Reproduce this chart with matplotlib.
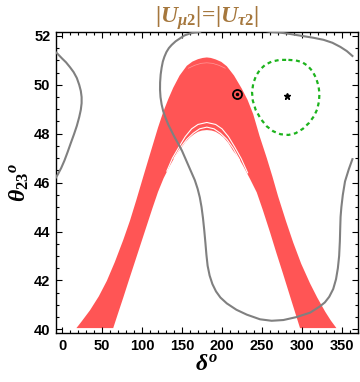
import numpy as np
import matplotlib
matplotlib.use('Agg')
import matplotlib.pyplot as plt
from matplotlib.ticker import MultipleLocator

plt.rcParams['mathtext.fontset'] = 'custom'
plt.rcParams['mathtext.rm'] = 'Liberation Serif:bold'
plt.rcParams['mathtext.bf'] = 'Liberation Serif:bold'
plt.rcParams['mathtext.it'] = 'Liberation Serif:bold:italic'
plt.rcParams['mathtext.bfit'] = 'Liberation Serif:bold:italic'
plt.rcParams['font.family'] = ['Liberation Sans', 'DejaVu Sans']

# red band: outer edge and inner edge (delta in deg, theta23 in deg)
outer_d = [18, 24, 35, 46, 56, 66, 76.6, 85, 93, 101.6, 108, 114, 120, 126.6, 133, 139, 147, 156,
           163, 170, 176, 181, 186, 192, 199, 206, 215, 224.6, 232, 239, 247, 256, 263, 270, 280,
           289, 299, 310, 319, 329, 336, 343]
outer_y = [40.05, 40.3, 40.78, 41.35, 41.98, 42.75, 43.66, 44.45, 45.3, 46.25, 46.95, 47.6, 48.25,
           48.9, 49.43, 49.88, 50.38, 50.78, 50.95, 51.05, 51.1, 51.12, 51.1, 51.04, 50.94, 50.76,
           50.38, 49.85, 49.38, 48.8, 47.9, 47.0, 46.25, 45.45, 44.42, 43.55, 42.68, 41.88, 41.3,
           40.72, 40.36, 40.05]
inner_d = [64, 70, 76.6, 83, 89, 97, 106, 113, 120, 127, 135, 141, 147.5, 154, 160, 165, 170, 175,
           181, 187, 192, 197, 202, 208, 214, 221, 227, 235, 243.4, 251, 260, 268, 276, 286, 297.5]
inner_y = [40.05, 40.65, 41.3, 41.95, 42.55, 43.35, 44.25, 44.95, 45.62, 46.18, 46.7, 47.05, 47.35,
           47.65, 47.85, 47.98, 48.08, 48.13, 48.15, 48.13, 48.08, 47.98, 47.85, 47.62, 47.3,
           47.0, 46.65, 46.15, 45.6, 44.88, 43.97, 43.12, 42.3, 41.25, 40.05]

# thin white gaps near the inner apex and near the top
gap1_d = [131, 138, 146, 154, 162, 170, 181, 192, 200, 208, 216, 224, 232]
gap1_y = [46.47, 47.0, 47.45, 47.88, 48.2, 48.38, 48.46, 48.38, 48.2, 47.88, 47.45, 46.98, 46.4]
gap2_d = [140, 148, 156, 164, 172, 181, 190, 198, 206, 214, 222]
gap2_y = [46.99, 47.43, 47.77, 48.02, 48.2, 48.27, 48.2, 48.02, 47.77, 47.4, 46.92]
gap3_d = [158, 166, 174, 181, 188, 196, 204]
gap3_y = [50.68, 50.8, 50.88, 50.9, 50.88, 50.8, 50.68]

# gray contours
left_d = [-8.75, -5, 0, 5, 10, 14.5, 18.5, 21.5, 23.5, 24.5, 24.5, 23.5, 21.5, 18.5, 15, 11, 7, 3,
          -1, -5, -8.75]
left_y = [51.36, 51.25, 51.08, 50.92, 50.72, 50.52, 50.28, 50.0, 49.75, 49.5, 49.25, 48.98, 48.68,
          48.32, 47.98, 47.62, 47.25, 46.9, 46.6, 46.35, 46.15]
mid_d = [178, 172.5, 166, 160, 153, 147.5, 142, 137, 133.5, 130.5, 128, 126, 124.5, 123.3, 122.6,
         122.5, 123.1, 124.5, 126.5, 129.5, 133, 137, 141, 145.5, 150, 156, 162, 166, 169.5, 172.2,
         174.4, 176.2, 177.8, 179.2, 180.5, 182, 184.5, 188, 192.5, 198, 206, 218, 231, 247.5,
         262, 276.7, 293, 310, 322, 328.5, 334, 339, 342.5, 344.8, 346.4, 347.3, 347.8, 348.2,
         349.2, 351, 353.75, 358.5, 363]
mid_y = [52.3, 52.16, 52.14, 52.1, 52.02, 51.9, 51.78, 51.63, 51.5, 51.34, 51.15, 50.95, 50.7,
         50.42, 50.1, 49.8, 49.5, 49.2, 48.92, 48.64, 48.36, 48.1, 47.84, 47.58, 47.3, 46.85, 46.4,
         46.1, 45.75, 45.4, 45.0, 44.55, 44.05, 43.55, 43.05, 42.6, 42.2, 41.85, 41.55, 41.3,
         41.06, 40.8, 40.6, 40.41, 40.35, 40.38, 40.5, 40.68, 40.93, 41.1, 41.33, 41.65, 42.05,
         42.5, 43.0, 43.6, 44.2, 44.6, 45.0, 45.5, 46.05, 46.55, 46.96]
top_d = [250, 255, 260, 272, 285, 300, 315, 327, 338, 348, 356, 363]
top_y = [52.25, 52.2, 52.17, 52.14, 52.08, 52.0, 51.92, 51.84, 51.72, 51.55, 51.38, 51.18]

# green dashed contour around best fit
green_d = [283, 292, 300, 307, 313, 317.5, 320.5, 321.8, 321.2, 319, 315, 309, 301, 292, 283, 273,
           264, 256, 248.5, 242, 238.5, 237.5, 239, 242.5, 247.5, 254, 262, 272, 283]
green_y = [51.02, 51.0, 50.93, 50.78, 50.56, 50.28, 49.97, 49.65, 49.32, 49.0, 48.72, 48.45, 48.2,
           48.02, 47.95, 47.98, 48.1, 48.3, 48.6, 48.98, 49.35, 49.7, 50.05, 50.37, 50.62, 50.82,
           50.95, 51.02, 51.02]

best_fit = (281.6, 49.55)
model_pt = (218.5, 49.62)

fig = plt.figure(figsize=(3.6, 3.82), dpi=100)
ax = fig.add_axes([0.1556, 0.1283, 0.8389, 0.7879])

band_d = np.concatenate([outer_d, inner_d[::-1]])
band_y = np.concatenate([outer_y, inner_y[::-1]])
ax.fill(band_d, band_y, color='#ff5555', lw=0, zorder=1)
ax.plot(gap1_d, gap1_y, color='white', lw=0.8, zorder=2)
ax.plot(gap2_d, gap2_y, color='white', lw=0.8, zorder=2)
ax.plot(gap3_d, gap3_y, color='white', lw=0.5, alpha=0.4, zorder=2)

for dd, yy in [(left_d, left_y), (mid_d, mid_y), (top_d, top_y)]:
    ax.plot(dd, yy, color='#808080', lw=1.5, zorder=3)

ax.plot(green_d, green_y, color='#1db31d', lw=1.6, dashes=(1.8, 1.6), zorder=3)

ax.plot(*best_fit, marker='*', color='black', ms=5, zorder=4)
ax.plot(*model_pt, marker='o', mfc='none', mec='black', ms=6.5, mew=1.3, zorder=4)
ax.plot(*model_pt, marker='.', color='black', ms=3, zorder=4)

ax.set_xlim(-7.5, 370)
ax.set_ylim(39.85, 52.16)
ax.xaxis.set_major_locator(MultipleLocator(50))
ax.xaxis.set_minor_locator(MultipleLocator(10))
ax.yaxis.set_major_locator(MultipleLocator(2))
ax.yaxis.set_minor_locator(MultipleLocator(0.5))
ax.tick_params(which='both', direction='in', top=True, right=True, width=0.8)
ax.tick_params(which='major', length=4.5, labelsize=10.5, pad=4)
ax.tick_params(which='minor', length=2.5)
for lab in ax.get_xticklabels() + ax.get_yticklabels():
    lab.set_fontweight('bold')
for s in ax.spines.values():
    s.set_linewidth(1.0)

ax.set_xlabel(r'$\delta^{o}$', fontsize=17, labelpad=0)
ax.set_ylabel(r'$\theta_{23}{}^{o}$', fontsize=17, labelpad=2)
ax.set_title(r'$|U_{\mu 2}|\!\mathbf{=}\!|U_{\tau 2}|$', fontsize=17, color='#a5773d', pad=6)

fig.savefig('out.png', dpi=100)
